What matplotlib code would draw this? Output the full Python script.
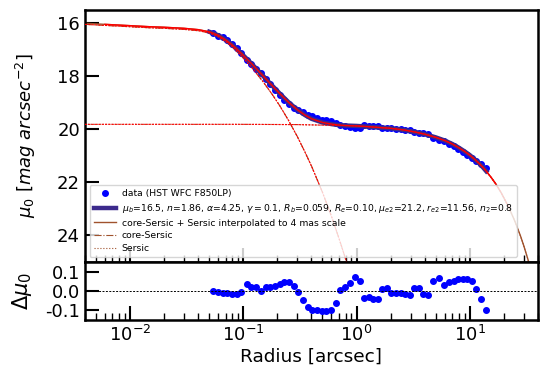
import numpy as np
import matplotlib
matplotlib.use("Agg")
import matplotlib.pyplot as plt
from matplotlib.ticker import FixedLocator, FormatStrFormatter, LogLocator

# ---- data ----
r_data = [0.0542, 0.0601, 0.0664, 0.0723, 0.0793, 0.0877, 0.0962, 0.107, 0.1173, 0.1297,
          0.1423, 0.1573, 0.1725, 0.1906, 0.2091, 0.2311, 0.2535, 0.278, 0.3052, 0.335,
          0.370, 0.406, 0.4456, 0.4924, 0.5402, 0.5927, 0.6597, 0.7188, 0.7942, 0.8713,
          0.9696, 1.064, 1.167, 1.281, 1.405, 1.542, 1.692, 1.856, 2.036, 2.235,
          2.452, 2.690, 2.951, 3.237, 3.553, 3.898, 4.277, 4.762, 5.298, 5.896,
          6.564, 7.199, 7.899, 8.668, 9.511, 10.43, 11.37, 12.47, 13.88]
mu_data = [16.35, 16.47, 16.53, 16.64, 16.78, 16.95, 17.13, 17.37, 17.52, 17.71,
           17.88, 18.10, 18.28, 18.50, 18.69, 18.88, 19.04, 19.18, 19.28, 19.36,
           19.44, 19.51, 19.58, 19.63, 19.66, 19.70, 19.76, 19.85, 19.88, 19.90,
           19.94, 19.93, 19.85, 19.87, 19.87, 19.88, 19.95, 19.96, 19.96, 19.97,
           20.00, 20.02, 20.04, 20.11, 20.14, 20.15, 20.19, 20.32, 20.40, 20.44,
           20.54, 20.63, 20.74, 20.84, 20.96, 21.08, 21.18, 21.29, 21.46]
resid = [0.002, -0.004, -0.009, -0.012, -0.016, -0.016, -0.005, 0.037, 0.020, 0.020,
         0.000, 0.020, 0.020, 0.027, 0.037, 0.044, 0.044, 0.028, -0.007, -0.048,
         -0.083, -0.096, -0.097, -0.101, -0.106, -0.097, -0.062, 0.005, 0.023, 0.041,
         0.073, 0.050, -0.035, -0.030, -0.042, -0.042, 0.011, 0.014, -0.009, -0.012,
         -0.012, -0.016, -0.023, 0.018, 0.018, -0.016, -0.021, 0.050, 0.067, 0.032,
         0.044, 0.050, 0.064, 0.064, 0.062, 0.050, 0.011, -0.044, -0.096]

# total model (core-Sersic + Sersic)
r_mod = [0.004, 0.006, 0.01, 0.015, 0.02, 0.03, 0.04, 0.05, 0.06, 0.07, 0.08, 0.09, 0.1,
         0.12, 0.15, 0.18, 0.21, 0.25, 0.3, 0.35, 0.4, 0.5, 0.6, 0.7, 0.8, 1.0, 1.3, 1.6,
         2.0, 2.6, 3.2, 4.0, 5.0, 6.0, 7.0, 8.0, 9.0, 10.0, 11.0, 12.0, 13.0, 14.0, 15.5,
         17.0, 19.0, 22.0, 25.0, 28.0, 30.0, 33.0, 36.0, 40.0]
mu_tot = [16.00, 16.04, 16.09, 16.13, 16.15, 16.19, 16.24, 16.32, 16.45, 16.63, 16.82, 17.02,
          17.21, 17.55, 17.99, 18.35, 18.65, 18.97, 19.26, 19.46, 19.60, 19.74, 19.80, 19.84,
          19.855, 19.87, 19.90, 19.93, 19.96, 20.02, 20.09, 20.18, 20.30, 20.42, 20.55,
          20.69, 20.83, 20.97, 21.12, 21.27, 21.42, 21.58, 21.82, 22.06, 22.40, 22.92,
          23.46, 24.01, 24.39, 24.97, 25.57, 26.38]
# core-Sersic component
r_cs = [0.004, 0.006, 0.01, 0.015, 0.02, 0.03, 0.04, 0.05, 0.06, 0.07, 0.08, 0.09, 0.1,
        0.12, 0.15, 0.18, 0.21, 0.25, 0.3, 0.35, 0.4, 0.5, 0.6, 0.7, 0.8, 0.9]
mu_cs = [16.04, 16.08, 16.13, 16.17, 16.19, 16.23, 16.28, 16.36, 16.50, 16.69, 16.89, 17.11,
         17.31, 17.69, 18.21, 18.68, 19.11, 19.65, 20.27, 20.85, 21.38, 22.37, 23.27, 24.11,
         24.88, 25.62]
# Sersic component
r_s = [0.004, 0.01, 0.1, 0.3, 0.5, 0.7, 1.0, 1.3, 1.6, 2.0, 2.6, 3.2, 4.0, 5.0, 6.0, 7.0,
       8.0, 9.0, 10.0, 11.0, 12.0, 13.0, 14.0, 15.5, 17.0, 19.0, 22.0, 25.0, 28.0, 30.0,
       33.0, 36.0, 40.0]
mu_s = [19.81, 19.81, 19.81, 19.82, 19.84, 19.85, 19.87, 19.90, 19.93, 19.96, 20.02, 20.09,
        20.18, 20.30, 20.42, 20.55, 20.69, 20.83, 20.97, 21.12, 21.27, 21.42, 21.58, 21.82,
        22.06, 22.40, 22.92, 23.46, 24.01, 24.39, 24.97, 25.57, 26.38]

fit_label = (r"$\mu_b$=16.5, $n$=1.86, $\alpha$=4.25, $\gamma=0.1$, $R_b$=0.059, "
             r"$R_e$=0.10, $\mu_{e2}$=21.2, $r_{e2}$=11.56, $n_2$=0.8")

r_mod = np.array(r_mod); mu_tot = np.array(mu_tot)

fig = plt.figure(figsize=(5.5, 3.71), dpi=100)
ax = fig.add_axes([0.1545, 0.2938, 0.8236, 0.6792])
axr = fig.add_axes([0.1545, 0.1375, 0.8236, 0.1563], sharex=ax)

brown = '#a0522d'
red = '#ff0000'
purple = '#3c2a8c'

ax.plot(r_data, mu_data, 'o', color='#0000ff', ms=4, label='data (HST WFC F850LP)', zorder=3)
fit_mask = (r_mod >= 0.05) & (r_mod <= 14.0)
ax.plot(r_mod[fit_mask], mu_tot[fit_mask], '-', color=purple, lw=3.2, label=fit_label, zorder=4)
ax.plot(r_mod, mu_tot, '-', color=brown, lw=1.0,
        label='core-Sersic + Sersic interpolated to 4 mas scale', zorder=2)
ax.plot(r_cs, mu_cs, '-.', color=brown, lw=0.8, label='core-Sersic', zorder=2)
ax.plot(r_s, mu_s, ':', color=brown, lw=0.8, label='Sersic', zorder=2)
red_mask = (r_mod >= 0.006) & (r_mod <= 17.0)
ax.plot(r_mod[red_mask], mu_tot[red_mask], '-', color=red, lw=1.0, zorder=5)
ax.plot(r_cs, mu_cs, '--', color=red, lw=0.8, dashes=(2, 1), zorder=5)
ax.plot(r_s[:-6], mu_s[:-6], '--', color=red, lw=0.8, dashes=(2, 1), zorder=5)

ax.set_xscale('log')
ax.set_xlim(0.004, 40)
ax.set_ylim(25, 15.5)
ax.yaxis.set_major_locator(FixedLocator([16, 18, 20, 22, 24]))
ax.set_ylabel(r'$\mu_0\ [mag\ arcsec^{-2}]$', fontsize=13, labelpad=14)

leg = ax.legend(loc='lower left', bbox_to_anchor=(0.0, 0.0), fontsize=6.7,
                handlelength=2.4, handletextpad=0.6, borderpad=0.45, labelspacing=0.4,
                framealpha=0.8)

axr.plot(r_data, resid, 'o', color='#0000ff', ms=4)
axr.axhline(0.0, color='black', lw=0.7, ls='--', dashes=(2, 1.5))
axr.set_ylim(-0.15, 0.15)
axr.yaxis.set_major_locator(FixedLocator([-0.1, 0.0, 0.1]))
axr.yaxis.set_major_formatter(FormatStrFormatter('%.1f'))
axr.set_ylabel(r'$\Delta\mu_0$', fontsize=15, labelpad=8)
axr.set_xlabel('Radius [arcsec]', fontsize=13.3, labelpad=2)

for a in (ax, axr):
    for s in a.spines.values():
        s.set_linewidth(1.8)
    a.tick_params(which='major', direction='in', length=10, width=1.5, labelsize=13,
                  top=False, right=False)
    a.tick_params(which='minor', direction='in', length=5, width=1.0, top=False, right=False)
    a.xaxis.set_major_locator(LogLocator(base=10, numticks=10))
    a.xaxis.set_minor_locator(LogLocator(base=10, subs=np.arange(2, 10), numticks=20))
ax.tick_params(axis='x', labelbottom=False)
ax.tick_params(axis='y', which='minor', left=False)
axr.tick_params(axis='y', which='minor', left=False)

fig.savefig('out.png', dpi=100)
